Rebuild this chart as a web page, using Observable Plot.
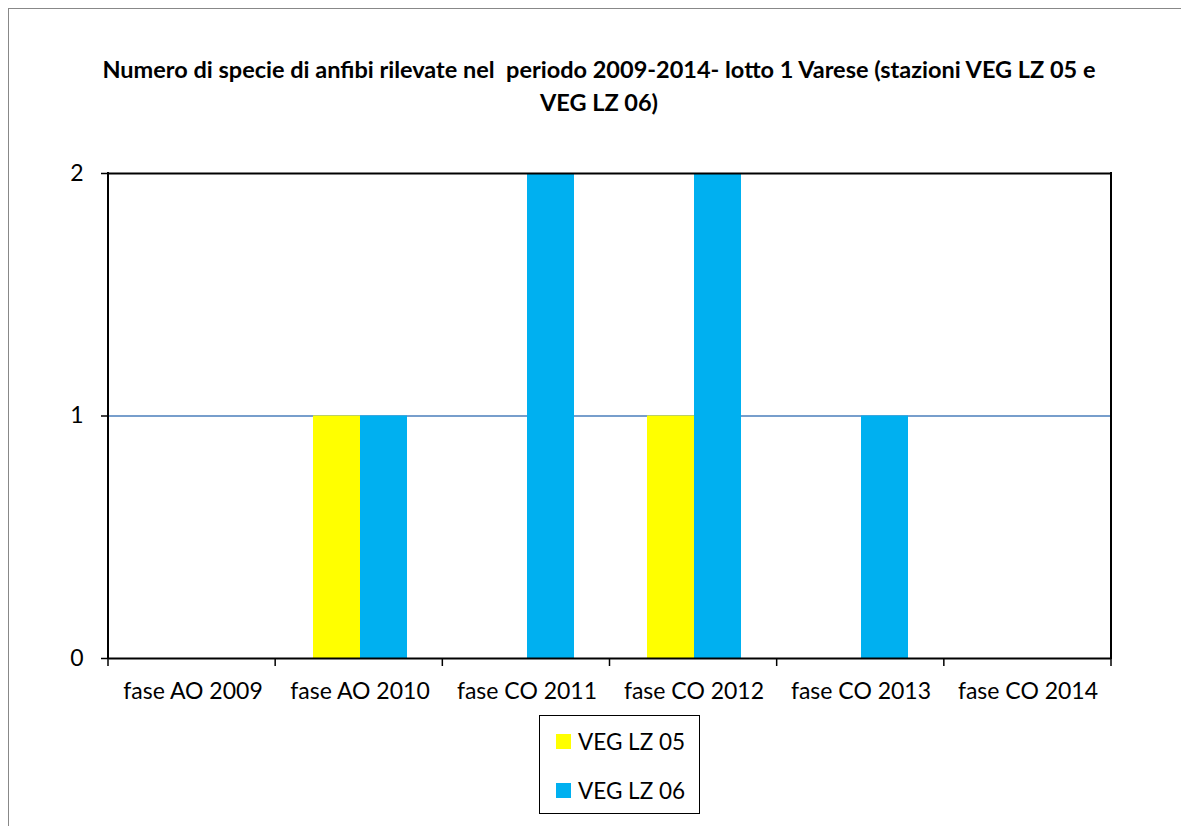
<!DOCTYPE html>
<html>
<head>
<meta charset="utf-8">
<script src="https://cdn.jsdelivr.net/npm/d3@7"></script>
<script src="https://cdn.jsdelivr.net/npm/@observablehq/plot@0.6"></script>
<style>
  body { margin: 0; background: #fff; }
  #page { position: relative; width: 1181px; height: 826px; overflow: hidden; background: #fff; font-family: Lato, "Open Sans", sans-serif; color: #000; }
  #outer { position: absolute; left: 8px; top: 8px; width: 1300px; height: 1000px; border: 1.5px solid #888; box-sizing: border-box; }
  #title { position: absolute; left: 0; top: 53px; width: 1198px; text-align: center; font-weight: bold; font-size: 23.5px; line-height: 33px; white-space: pre; }
  #chart { position: absolute; left: 0; top: 0; }
  #legend { position: absolute; left: 539px; top: 715px; width: 161px; height: 99px; border: 1.5px solid #000; box-sizing: border-box; background: #fff; }
  .item { position: absolute; left: 16px; display: flex; align-items: center; font-size: 22.5px; }
  .sw { width: 15px; height: 15px; margin-right: 7px; }
</style>
</head>
<body>
<div id="page">
  <div id="outer"></div>
  <div id="chart"></div>
  <div id="title"></div>
  <div id="legend"></div>
</div>
<script>
const titleLines = ["Numero di specie di anfibi rilevate nel  periodo 2009-2014- lotto 1 Varese (stazioni VEG LZ 05 e", "VEG LZ 06)"];
const categories = ["fase AO 2009", "fase AO 2010", "fase CO 2011", "fase CO 2012", "fase CO 2013", "fase CO 2014"];
const seriesNames = ["VEG LZ 05", "VEG LZ 06"];
const seriesColors = ["#ffff00", "#00b0f0"];
const vegLZ05 = [0, 1, 0, 1, 0, 0];
const vegLZ06 = [0, 1, 2, 2, 1, 0];
const yTicks = [0, 1, 2];

const data = [];
categories.forEach((c, i) => {
  data.push({cat: c, series: seriesNames[0], value: vegLZ05[i]});
  data.push({cat: c, series: seriesNames[1], value: vegLZ06[i]});
});

document.getElementById("title").textContent = titleLines.join("\n");

const plot = Plot.plot({
  width: 1181,
  height: 712,
  marginLeft: 108,
  marginRight: 70,
  marginTop: 173,
  marginBottom: 54,
  style: {fontFamily: "Lato, 'Open Sans', sans-serif", fontSize: "23px", color: "#000", background: "transparent", overflow: "visible"},
  fx: {domain: categories, padding: 0, axis: null},
  x: {domain: seriesNames, paddingInner: 0, paddingOuter: 0.74, axis: null},
  y: {domain: [yTicks[0], yTicks[yTicks.length - 1]], axis: null},
  color: {domain: seriesNames, range: seriesColors},
  marks: [
    Plot.ruleY(yTicks.slice(1, -1), {stroke: "#4a7ebb", strokeWidth: 1.5}),
    Plot.barY(data, {fx: "cat", x: "series", y: "value", fill: "series"}),
    Plot.ruleY([yTicks[yTicks.length - 1]], {stroke: "#000", strokeWidth: 2}),
    Plot.ruleY([yTicks[0]], {stroke: "#000", strokeWidth: 2}),
    Plot.axisY(yTicks, {tickSize: 8, tickPadding: 18, tickFormat: d => String(d), label: null, stroke: "#000", strokeWidth: 1.5}),
    Plot.axisFx({anchor: "bottom", tickSize: 0, tickPadding: 24, label: null})
  ]
});
document.getElementById("chart").appendChild(plot);

// category boundary ticks and vertical frame lines, from the plot's scales
const fxS = plot.scale("fx");
const yS = plot.scale("y");
const fx = d3.scaleBand().domain(fxS.domain).range(fxS.range).paddingInner(fxS.paddingInner || 0).paddingOuter(fxS.paddingOuter || 0);
const y = d3.scaleLinear().domain(yS.domain).range(yS.range);
const svg = d3.select(plot.tagName.toLowerCase() === "svg" ? plot : plot.querySelector("svg"));
const g = svg.append("g").attr("stroke", "#000");
const edges = categories.map(c => fx(c)).concat([fx(categories[categories.length - 1]) + fx.bandwidth()]);
const y0 = y(yTicks[0]), y2 = y(yTicks[yTicks.length - 1]);
g.selectAll("line.tk").data(edges).join("line").attr("class", "tk")
  .attr("x1", d => d).attr("x2", d => d).attr("y1", y0).attr("y2", y0 + 8).attr("stroke-width", 1.5);
g.selectAll("line.side").data([edges[0], edges[edges.length - 1]]).join("line").attr("class", "side")
  .attr("x1", d => d).attr("x2", d => d).attr("y1", y2 - 1).attr("y2", y0 + 1).attr("stroke-width", 2);

const legend = document.getElementById("legend");
seriesNames.forEach((s, i) => {
  const it = document.createElement("div");
  it.className = "item";
  it.style.top = (i === 0 ? 12 : 61) + "px";
  const sw = document.createElement("div");
  sw.className = "sw";
  sw.style.background = seriesColors[i];
  const tx = document.createElement("span");
  tx.textContent = s;
  it.appendChild(sw); it.appendChild(tx);
  legend.appendChild(it);
});
</script>
</body>
</html>
